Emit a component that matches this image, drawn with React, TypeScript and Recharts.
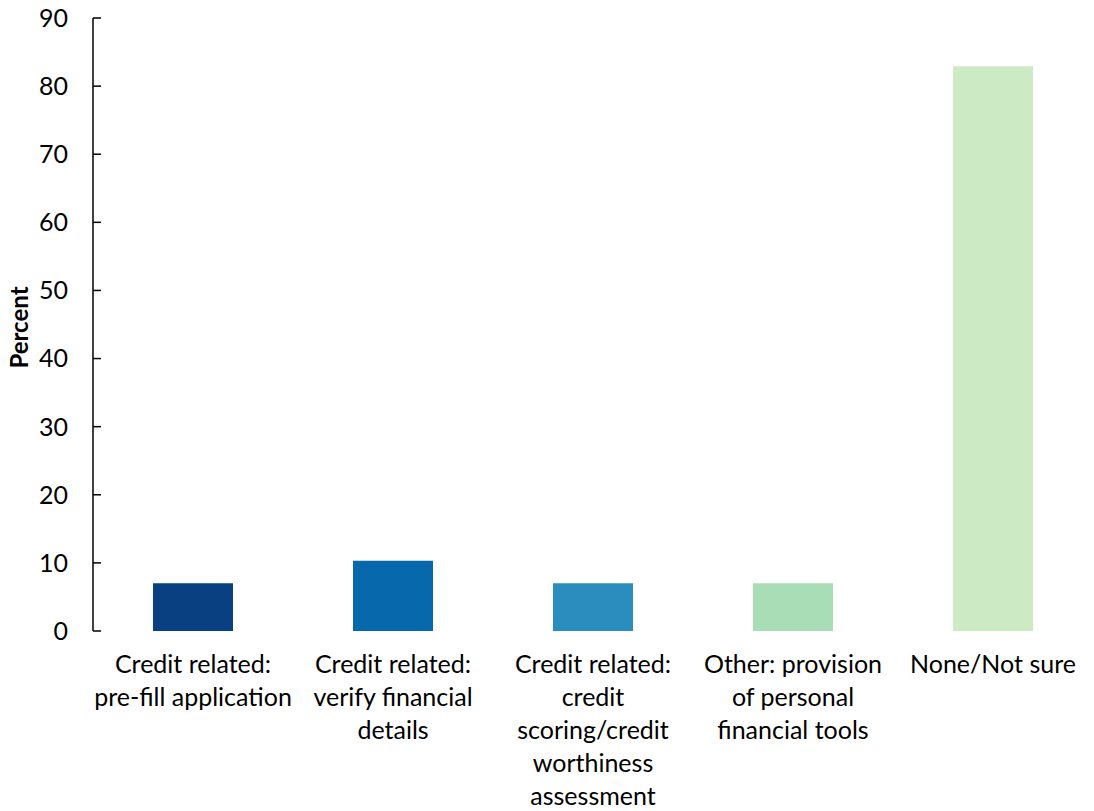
import { Bar, BarChart, Cell, Label, XAxis, YAxis } from "recharts";

// categories as drawn, with the line breaks of the original labels
const categories = [
  "Credit related:\npre-fill application",
  "Credit related:\nverify financial\ndetails",
  "Credit related:\ncredit\nscoring/credit\nworthiness\nassessment",
  "Other: provision\nof personal\nfinancial tools",
  "None/Not sure",
];
const percents = [7.0, 10.3, 7.0, 7.0, 82.9];
const barColors = ["#084081", "#0868ac", "#2b8cbe", "#a8ddb5", "#ccebc5"];
const yTicks = [0, 10, 20, 30, 40, 50, 60, 70, 80, 90];
const edgeTicks = [0, 1, 2, 3, 4, 5];

const FONT = "Lato, sans-serif";

const data = categories.map((name, i) => ({ name, value: percents[i], pos: i + 0.5 }));

function CategoryTick({ x, y, payload }: any) {
  const lines = String(payload.value).split("\n");
  return (
    <text x={x} y={y} textAnchor="middle" fontSize={25} fontFamily={FONT} fill="#000">
      {lines.map((l, i) => (
        <tspan key={i} x={x} dy={i === 0 ? "0.71em" : 33}>
          {l}
        </tspan>
      ))}
    </text>
  );
}

export default function App() {
  return (
    <div style={{ position: "absolute", left: 0, top: 0, background: "#fff" }}>
      <BarChart
        width={1094}
        height={811}
        data={data}
        margin={{ top: 18, right: 1, bottom: 0, left: 0 }}
        barCategoryGap="30%"
      >
        <XAxis
          xAxisId="edges"
          type="number"
          dataKey="pos"
          domain={[0, 5]}
          ticks={edgeTicks}
          allowDataOverflow
          height={0}
          mirror
          tickSize={8}
          tickFormatter={() => ""}
          stroke="#000"
          axisLine={{ stroke: "#000", strokeWidth: 1.5 }}
          tickLine={{ stroke: "#000", strokeWidth: 1.5 }}
        />
        <XAxis
          dataKey="name"
          height={180}
          axisLine={false}
          tickLine={false}
          tickSize={0}
          tickMargin={24}
          interval={0}
          tick={<CategoryTick />}
        />
        <YAxis
          domain={[0, 90]}
          ticks={yTicks}
          width={93}
          interval={0}
          tickSize={-8}
          tickMargin={33}
          stroke="#000"
          axisLine={{ stroke: "#000", strokeWidth: 1.5 }}
          tickLine={{ stroke: "#000", strokeWidth: 1.5 }}
          tick={{ fill: "#000", fontSize: 25, fontFamily: FONT }}
        >
          <Label
            value="Percent"
            angle={-90}
            position="insideLeft"
            offset={19}
            dy={3}
            style={{ fontWeight: "bold", fontSize: 24, fontFamily: FONT, fill: "#000", textAnchor: "middle" }}
          />
        </YAxis>
        <Bar dataKey="value" isAnimationActive={false}>
          {data.map((d, i) => (
            <Cell key={d.name} fill={barColors[i]} />
          ))}
        </Bar>
      </BarChart>
    </div>
  );
}
